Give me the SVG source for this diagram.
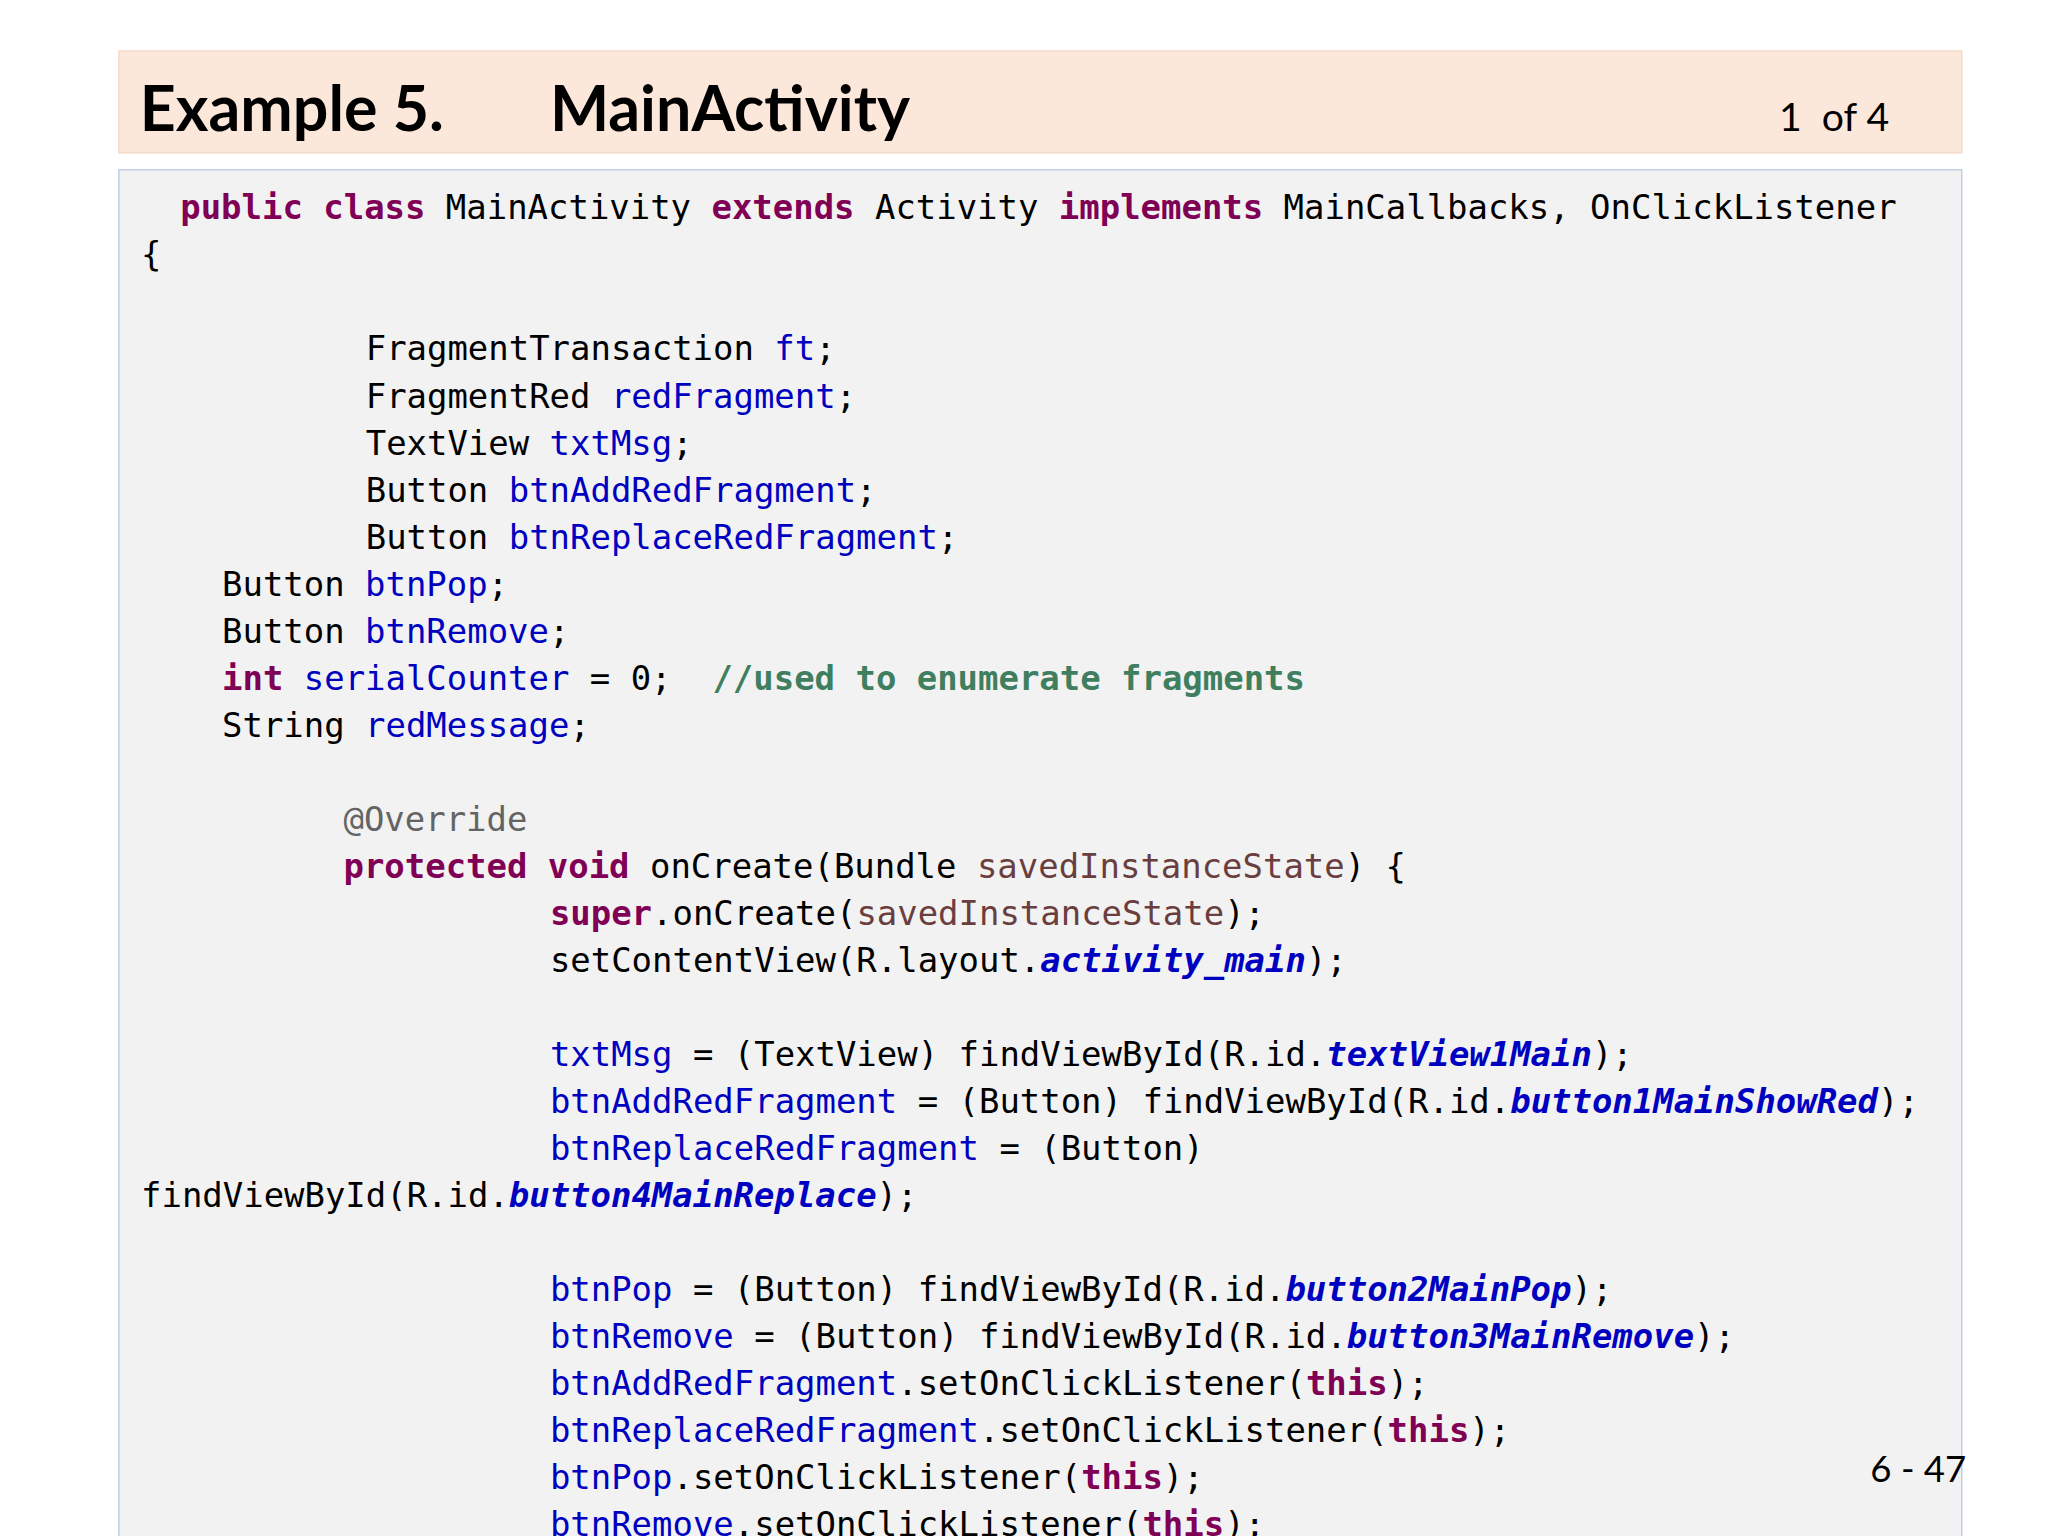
<svg xmlns="http://www.w3.org/2000/svg" width="2048" height="1536" viewBox="0 0 2048 1536">
<style>
.c{font-family:"DejaVu Sans Mono","Liberation Mono",monospace;font-size:26px;fill:#000;white-space:pre}
.k{fill:#7f0055;font-weight:bold}
.f{fill:#0000c0}
.s{fill:#0000c0;font-weight:bold;font-style:italic}
.p{fill:#6a3e3e}
.a{fill:#646464}
.m{fill:#3f7f5f;font-weight:bold}
.h{font-family:Lato,"Liberation Sans",sans-serif}
</style>
<rect width="2048" height="1536" fill="#fff"/>
<g transform="scale(1.30612)">
<g id="header">
<rect x="91" y="39" width="1411" height="78" fill="#fce8db" stroke="#f3d8c4"/>
<text class="h" x="107" y="100" font-size="48" font-weight="bold">Example 5.</text>
<text class="h" x="421" y="100" font-size="48" font-weight="bold">MainActivity</text>
<text class="h" x="1362" y="100" font-size="30" xml:space="preserve">1  of 4</text>
</g>
<g id="code">
<rect x="91" y="130" width="1411" height="1100" fill="#f2f2f2" stroke="#b8c8e0"/>
<text class="c" x="138" y="168"><tspan class="k">public</tspan> <tspan class="k">class</tspan> MainActivity <tspan class="k">extends</tspan> Activity <tspan class="k">implements</tspan> MainCallbacks, OnClickListener</text>
<text class="c" x="108" y="204">{</text>
<text class="c" x="280" y="276">FragmentTransaction <tspan class="f">ft</tspan>;</text>
<text class="c" x="280" y="312">FragmentRed <tspan class="f">redFragment</tspan>;</text>
<text class="c" x="280" y="348">TextView <tspan class="f">txtMsg</tspan>;</text>
<text class="c" x="280" y="384">Button <tspan class="f">btnAddRedFragment</tspan>;</text>
<text class="c" x="280" y="420">Button <tspan class="f">btnReplaceRedFragment</tspan>;</text>
<text class="c" x="170" y="456">Button <tspan class="f">btnPop</tspan>;</text>
<text class="c" x="170" y="492">Button <tspan class="f">btnRemove</tspan>;</text>
<text class="c" x="170" y="528"><tspan class="k">int</tspan> <tspan class="f">serialCounter</tspan> = 0;  <tspan class="m">//used to enumerate fragments</tspan></text>
<text class="c" x="170" y="564">String <tspan class="f">redMessage</tspan>;</text>
<text class="c a" x="263" y="636">@Override</text>
<text class="c" x="263" y="672"><tspan class="k">protected</tspan> <tspan class="k">void</tspan> onCreate(Bundle <tspan class="p">savedInstanceState</tspan>) {</text>
<text class="c" x="421" y="708"><tspan class="k">super</tspan>.onCreate(<tspan class="p">savedInstanceState</tspan>);</text>
<text class="c" x="421" y="744">setContentView(R.layout.<tspan class="s">activity_main</tspan>);</text>
<text class="c" x="421" y="816"><tspan class="f">txtMsg</tspan> = (TextView) findViewById(R.id.<tspan class="s">textView1Main</tspan>);</text>
<text class="c" x="421" y="852"><tspan class="f">btnAddRedFragment</tspan> = (Button) findViewById(R.id.<tspan class="s">button1MainShowRed</tspan>);</text>
<text class="c" x="421" y="888"><tspan class="f">btnReplaceRedFragment</tspan> = (Button)</text>
<text class="c" x="108" y="924">findViewById(R.id.<tspan class="s">button4MainReplace</tspan>);</text>
<text class="c" x="421" y="996"><tspan class="f">btnPop</tspan> = (Button) findViewById(R.id.<tspan class="s">button2MainPop</tspan>);</text>
<text class="c" x="421" y="1032"><tspan class="f">btnRemove</tspan> = (Button) findViewById(R.id.<tspan class="s">button3MainRemove</tspan>);</text>
<text class="c" x="421" y="1068"><tspan class="f">btnAddRedFragment</tspan>.setOnClickListener(<tspan class="k">this</tspan>);</text>
<text class="c" x="421" y="1104"><tspan class="f">btnReplaceRedFragment</tspan>.setOnClickListener(<tspan class="k">this</tspan>);</text>
<text class="c" x="421" y="1140"><tspan class="f">btnPop</tspan>.setOnClickListener(<tspan class="k">this</tspan>);</text>
<text class="c" x="421" y="1176"><tspan class="f">btnRemove</tspan>.setOnClickListener(<tspan class="k">this</tspan>);</text>
</g>
<text id="pagenum" class="h" x="1432" y="1135" font-size="28">6 - 47</text>
</g>
</svg>
